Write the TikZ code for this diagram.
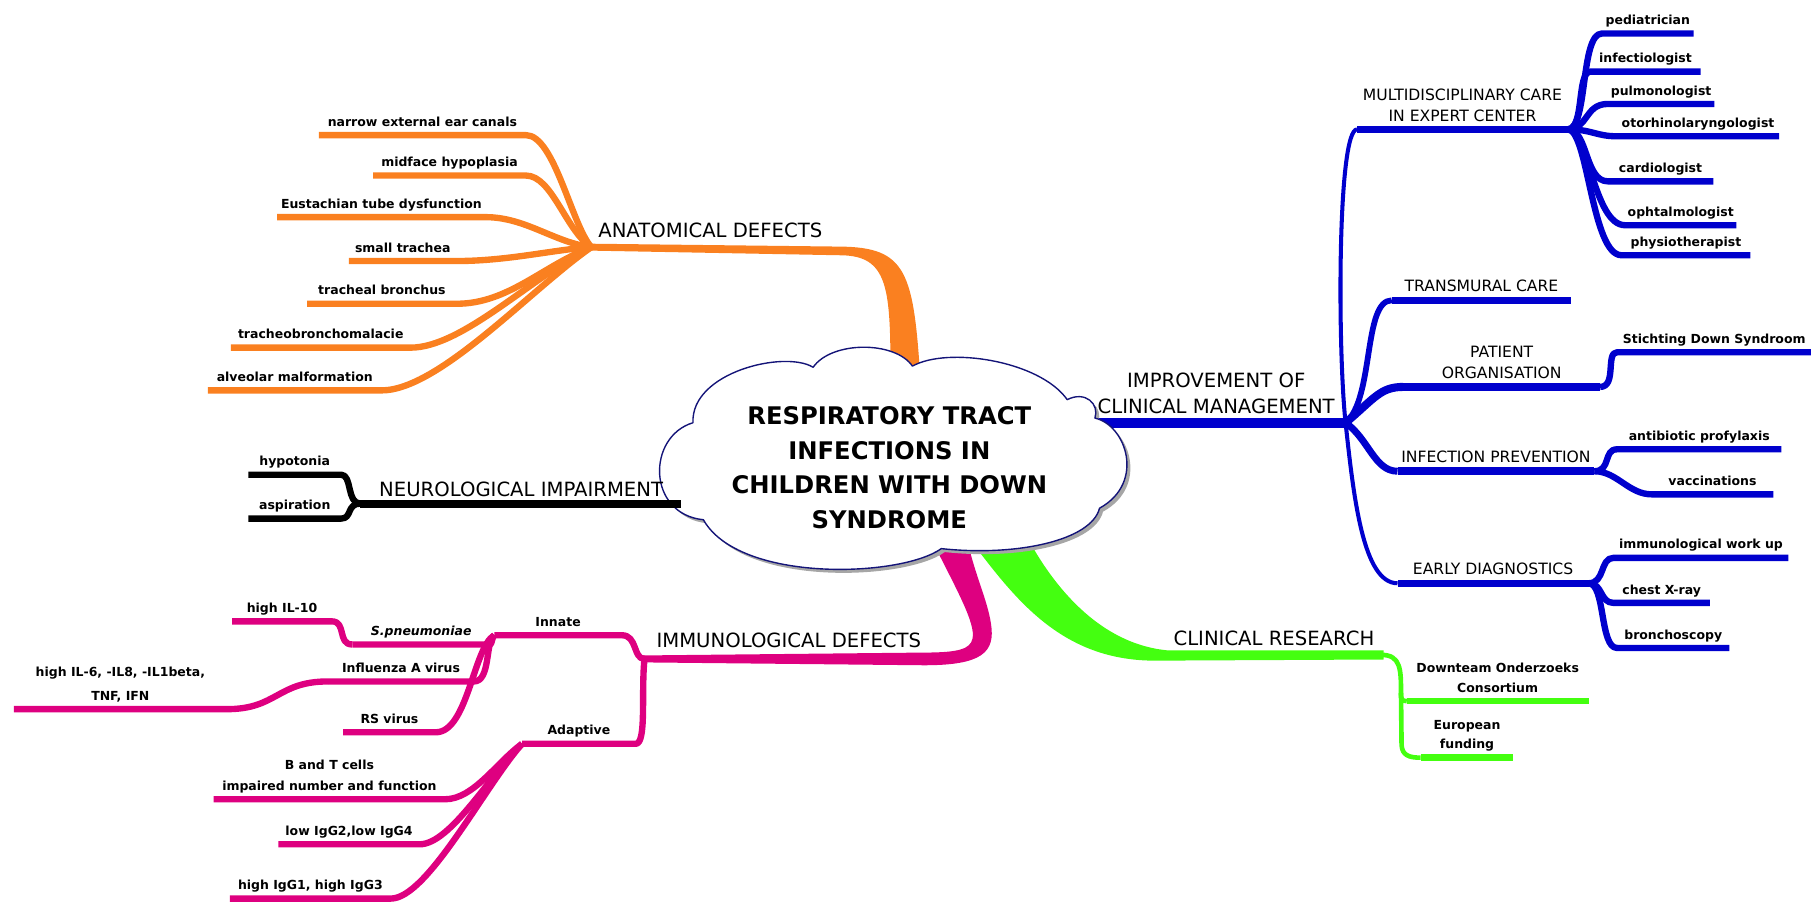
\documentclass[tikz,border=0pt]{standalone}
\usepackage{fontspec}
\setmainfont{DejaVu Sans}
\definecolor{cOr}{RGB}{250,128,32}
\definecolor{cBl}{RGB}{0,0,205}
\definecolor{cPk}{RGB}{222,0,128}
\definecolor{cGr}{RGB}{68,255,16}
\definecolor{cNavy}{RGB}{20,20,120}
\begin{document}
\begin{tikzpicture}[x=1pt,y=-1pt,line join=round,
  lf/.style={font=\fontsize{10.8}{17}\selectfont\bfseries, inner xsep=0pt, inner ysep=4.5pt, text depth=3pt, align=center, anchor=south west},
  lone/.style={font=\fontsize{13.5}{18}\selectfont, inner xsep=0pt, inner ysep=5pt, text depth=2pt, align=center, anchor=south west},
  hd/.style={font=\fontsize{17}{22}\selectfont, inner sep=2pt, text depth=0pt, anchor=south, align=center},
  ob/.style={draw=cOr, line width=5.5pt},
  kb/.style={draw=black, line width=5.5pt},
  pb/.style={draw=cPk, line width=5.5pt},
  gb/.style={draw=cGr, line width=5.5pt},
  bb/.style={draw=cBl, line width=5.5pt}]
\useasboundingbox (0,0) rectangle (1568,784);

% ---------------- ORANGE ----------------
\fill[cOr] (512,211) -- (727,213.5) .. controls (785,214) and (791,235) .. (797,330) -- (771,330) .. controls (771,250) and (770,221) .. (727,221) -- (512,217) -- cycle;
\node[hd] (AD) at (615,208) {ANATOMICAL DEFECTS};
\coordinate (Fo) at (512,214);
\node[lf, minimum width=179] (o1) at (276,117) {narrow external ear canals};
\draw[ob] (o1.south west) -- (o1.south east) .. controls (480,117) and (495,195) .. (Fo);
\node[lf, minimum width=132] (o2) at (323,152) {midface hypoplasia};
\draw[ob] (o2.south west) -- (o2.south east) .. controls (478,152) and (490,200) .. (Fo);
\node[lf, minimum width=180] (o3) at (240,188) {Eustachian tube dysfunction};
\draw[ob] (o3.south west) -- (o3.south east) .. controls (455,188) and (480,210) .. (Fo);
\node[lf, minimum width=93] (o4) at (302,226) {small trachea};
\draw[ob] (o4.south west) -- (o4.south east) .. controls (440,226) and (480,216) .. (Fo);
\node[lf, minimum width=129] (o5) at (266,263) {tracheal bronchus};
\draw[ob] (o5.south west) -- (o5.south east) .. controls (440,263) and (470,230) .. (Fo);
\node[lf, minimum width=155] (o6) at (200,301) {tracheobronchomalacie};
\draw[ob] (o6.south west) -- (o6.south east) .. controls (400,301) and (460,240) .. (Fo);
\node[lf, minimum width=150] (o7) at (180,338) {alveolar malformation};
\draw[ob] (o7.south west) -- (o7.south east) .. controls (380,338) and (460,250) .. (Fo);

% ---------------- PINK ----------------
\fill[cPk] (808,470) .. controls (828,510) and (845,540) .. (842,553) .. controls (840,562) and (830,565) .. (800,565) -- (556,567.5) -- (556,573.5) -- (800,576) .. controls (850,576) and (862,565) .. (858,540) .. controls (855,520) and (845,500) .. (838,470) -- cycle;
\node[hd] (ID) at (683,563) {IMMUNOLOGICAL DEFECTS};
\coordinate (Fp) at (558,570.5);
\node[lf, minimum width=110] (In) at (428,550) {Innate};
\draw[pb] (In.south west) -- (In.south east) .. controls (552,550) and (548,570.5) .. (Fp);
\node[lf, minimum width=98] (Ad) at (452,644) {Adaptive};
\draw[pb] (Ad.south west) -- (Ad.south east) .. controls (560,644) and (555,600) .. (Fp);
\node[lf, minimum width=119, font=\fontsize{10.8}{17}\selectfont\bfseries\itshape] (sp) at (305,558) {S.pneumoniae};
\draw[pb] (sp.south west) -- (sp.south east) .. controls (426,558) and (426,551) .. (In.south west);
\node[lf, minimum width=86] (h10) at (201,538) {high IL-10};
\draw[pb] (h10.south west) -- (h10.south east) .. controls (300,538) and (292,558) .. (sp.south west);
\node[lf, minimum width=126] (flu) at (284,590) {Influenza A virus};
\draw[pb] (flu.south west) -- (flu.south east) .. controls (425,590) and (420,555) .. (In.south west);
\node[lf, minimum width=184, font=\fontsize{10.8}{21}\selectfont\bfseries] (il6) at (12,614) {high IL-6, -IL8, -IL1beta,\\TNF, IFN};
\draw[pb] (il6.south west) -- (il6.south east) .. controls (240,614) and (240,590) .. (flu.south west);
\node[lf, minimum width=80] (rs) at (297,634) {RS virus};
\draw[pb] (rs.south west) -- (rs.south east) .. controls (405,634) and (410,560) .. (In.south west);
\node[lf, minimum width=200, font=\fontsize{10.8}{18}\selectfont\bfseries] (bt) at (185,692) {B and T cells\\impaired number and function};
\draw[pb] (bt.south west) -- (bt.south east) .. controls (410,692) and (430,660) .. (Ad.south west);
\node[lf, minimum width=122] (lg) at (241,731) {low IgG2,low IgG4};
\draw[pb] (lg.south west) -- (lg.south east) .. controls (390,731) and (425,670) .. (Ad.south west);
\node[lf, minimum width=139] (hg) at (199,778) {high IgG1, high IgG3};
\draw[pb] (hg.south west) -- (hg.south east) .. controls (370,778) and (420,680) .. (Ad.south west);

% ---------------- GREEN ----------------
\fill[cGr] (842,470) .. controls (880,520) and (920,572) .. (1000,572) -- (1198,571) -- (1198,563) -- (1010,563) .. controls (960,558) and (920,520) .. (892,470) -- cycle;
\node[hd] (CR) at (1103,561) {CLINICAL RESEARCH};
\coordinate (Ge) at (1196,567);
\coordinate (Gj) at (1213,600);
\node[lf, minimum width=157] (dt) at (1218,607) {Downteam Onderzoeks\\Consortium};
\node[lf, minimum width=80] (eu) at (1230,656) {European\\funding};
\draw[cGr, line width=4pt] (Ge) .. controls (1213,567) and (1213,580) .. (Gj) .. controls (1213,606) and (1214,607) .. (dt.south west);
\draw[cGr, line width=4pt] (Gj) -- (1213.5,645) .. controls (1214,654) and (1220,656) .. (eu.south west);
\draw[gb] (dt.south west) -- (dt.south east);
\draw[gb] (eu.south west) -- (eu.south east);

% ---------------- BLUE ----------------
\coordinate (Fb) at (1165,366);
\coordinate (Bs) at (930,366);
\draw[cBl, line width=9pt] (Bs) -- (Fb);
\node[hd] (IM) at (1053,360) {IMPROVEMENT OF\\CLINICAL MANAGEMENT};
\node[lone, minimum width=182] (MD) at (1175,112) {MULTIDISCIPLINARY CARE\\IN EXPERT CENTER};
\node[lone, minimum width=155] (TC) at (1205,260) {TRANSMURAL CARE};
\node[lone, minimum width=170] (PO) at (1215,335) {PATIENT\\ORGANISATION};
\node[lone, minimum width=170] (IP) at (1210,408) {INFECTION PREVENTION};
\node[lone, minimum width=165] (ED) at (1210,505) {EARLY DIAGNOSTICS};
\draw[cBl, line width=3.5pt] (Fb) .. controls (1158,300) and (1158,112) .. (MD.south west);
\draw[cBl, line width=5pt] (Fb) .. controls (1190,345) and (1180,260) .. (TC.south west);
\draw[cBl, line width=7pt] (Fb) .. controls (1190,345) and (1195,335) .. (PO.south west);
\draw[cBl, line width=6pt] (Fb) .. controls (1185,380) and (1190,408) .. (IP.south west);
\draw[cBl, line width=3.5pt] (Fb) .. controls (1172,430) and (1180,505) .. (ED.south west);
\foreach \n in {MD,TC,PO,IP,ED} \draw[cBl, line width=6.5pt] (\n.south west) -- (\n.south east);

\node[lf, minimum width=79] (ped) at (1387,29) {pediatrician};
\node[lf, minimum width=95] (inf) at (1377,62) {infectiologist};
\node[lf, minimum width=92] (pul) at (1392,90) {pulmonologist};
\node[lf, minimum width=140] (oto) at (1400,118) {otorhinolaryngologist};
\node[lf, minimum width=91] (car) at (1392,157) {cardiologist};
\node[lf, minimum width=96] (oph) at (1407,195) {ophtalmologist};
\node[lf, minimum width=111] (phy) at (1404,221) {physiotherapist};
\draw[bb] (MD.south east) .. controls (1375,112) and (1368,29) .. (ped.south west) -- (ped.south east);
\draw[bb] (MD.south east) .. controls (1372,112) and (1365,62) .. (inf.south west) -- (inf.south east);
\draw[bb] (MD.south east) .. controls (1375,112) and (1372,90) .. (pul.south west) -- (pul.south east);
\draw[bb] (MD.south east) .. controls (1378,112) and (1382,118) .. (oto.south west) -- (oto.south east);
\draw[bb] (MD.south east) .. controls (1375,112) and (1372,157) .. (car.south west) -- (car.south east);
\draw[bb] (MD.south east) .. controls (1375,112) and (1380,195) .. (oph.south west) -- (oph.south east);
\draw[bb] (MD.south east) .. controls (1375,112) and (1378,221) .. (phy.south west) -- (phy.south east);

\node[lf, minimum width=168] (sds) at (1400,305) {Stichting Down Syndroom};
\draw[bb] (PO.south east) .. controls (1400,335) and (1390,305) .. (sds.south west) -- (sds.south east);
\node[lf, minimum width=142] (ab) at (1400,389) {antibiotic profylaxis};
\node[lf, minimum width=105] (vac) at (1430,428) {vaccinations};
\draw[bb] (IP.south east) .. controls (1395,408) and (1388,389) .. (ab.south west) -- (ab.south east);
\draw[bb] (IP.south east) .. controls (1400,408) and (1410,428) .. (vac.south west) -- (vac.south east);
\node[lf, minimum width=151] (imw) at (1397,483) {immunological work up};
\node[lf, minimum width=83] (cx) at (1397,522) {chest X-ray};
\node[lf, minimum width=97] (br) at (1400,561) {bronchoscopy};
\draw[bb] (ED.south east) .. controls (1390,505) and (1385,483) .. (imw.south west) -- (imw.south east);
\draw[bb] (ED.south east) .. controls (1388,505) and (1385,522) .. (cx.south west) -- (cx.south east);
\draw[bb] (ED.south east) .. controls (1390,505) and (1385,561) .. (br.south west) -- (br.south east);

% ---------------- CLOUD ----------------
\def\cloudpath{(600,366) .. controls (598,322) and (680,303) .. (704,318)
 .. controls (720,295) and (775,295) .. (790,317)
 .. controls (820,300) and (900,312) .. (924,346)
 .. controls (940,338) and (952,350) .. (948,362)
 .. controls (975,368) and (992,418) .. (952,440)
 .. controls (945,468) and (880,482) .. (815,475)
 .. controls (780,500) and (640,505) .. (609,450)
 .. controls (560,445) and (560,378) .. (600,366) -- cycle}
\fill[gray!70, shift={(3,3)}] \cloudpath;
\draw[cNavy, fill=white, line width=1.2pt] \cloudpath;
\node[font=\fontsize{21}{30}\selectfont\bfseries, align=center] (T) at (770,405) {RESPIRATORY TRACT\\INFECTIONS IN\\CHILDREN WITH DOWN\\SYNDROME};

% ---------------- BLACK ----------------
\node[hd, minimum width=278, anchor=south west] (NI) at (312,432) {NEUROLOGICAL IMPAIRMENT};
\coordinate (Fk) at (312,436);
\coordinate (Ke) at (590,436);
\draw[black, line width=7pt] (Fk) -- (Ke);
\node[lf, minimum width=80] (hy) at (215,411) {hypotonia};
\node[lf, minimum width=80] (as) at (215,449) {aspiration};
\draw[kb] (hy.south west) -- (hy.south east) .. controls (305,411) and (300,436) .. (Fk);
\draw[kb] (as.south west) -- (as.south east) .. controls (305,449) and (300,436) .. (Fk);
\end{tikzpicture}
\end{document}
